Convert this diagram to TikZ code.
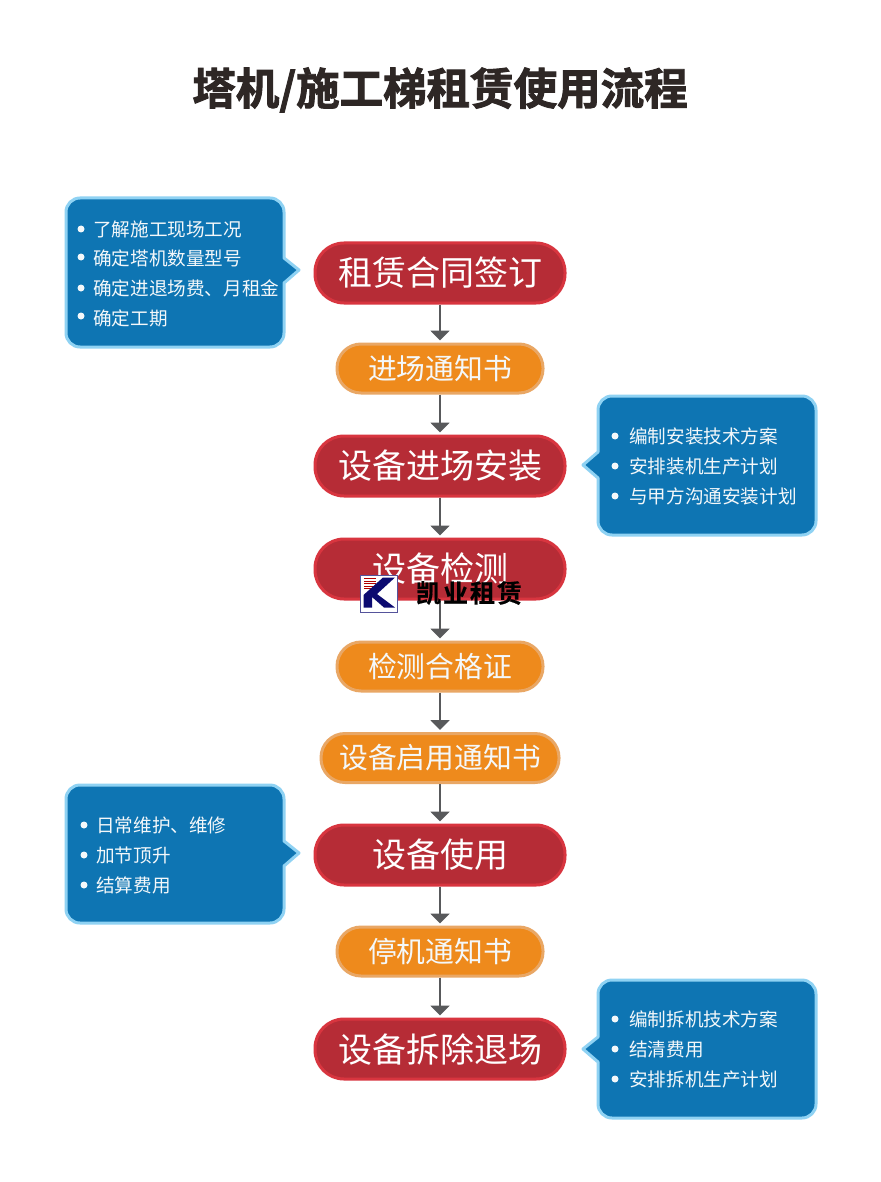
\documentclass[tikz,border=0pt]{standalone}
\usepackage{fontspec}
\setmainfont{Noto Sans CJK SC}
\newfontfamily\titlefont[FakeBold=2.2]{Noto Sans CJK SC Bold}
\newfontfamily\logofont[FakeBold=0.6]{Noto Sans CJK SC Bold}
\usetikzlibrary{arrows.meta}
\definecolor{redfill}{HTML}{B62C36}
\definecolor{redline}{HTML}{D8353F}
\definecolor{orfill}{HTML}{EE8A1C}
\definecolor{orline}{HTML}{E9A765}
\definecolor{bubfill}{HTML}{0E75B3}
\definecolor{bubline}{HTML}{8FD2F3}
\definecolor{arrowc}{HTML}{58595B}
\definecolor{titlec}{HTML}{2E2725}
\definecolor{logoc}{HTML}{0C0A70}
\definecolor{txtc}{HTML}{F4F8FA}
\tikzset{
  x=1pt,y=-1pt,
  redpill/.style={draw=redline,fill=redfill,line width=3pt,rounded corners=29pt,minimum width=250pt,minimum height=60pt,inner sep=0pt,text=white,font=\fontsize{34}{34}\selectfont},
  orpill/.style={draw=orline,fill=orfill,line width=3pt,rounded corners=24pt,minimum width=206pt,minimum height=49pt,inner sep=0pt,text=txtc,font=\fontsize{28.8}{29}\selectfont},
  widepill/.style={orpill,minimum width=238pt},
  bubble/.style={draw=bubline,fill=bubfill,line width=3pt,line join=round},
  bul/.style={anchor=west,inner sep=0pt,text=txtc,font=\fontsize{18.6}{19}\selectfont},
  dotb/.style={circle,fill=txtc,inner sep=0pt,minimum size=7pt},
  flow/.style={draw=arrowc,line width=2pt,-{Triangle[width=19pt,length=10pt]},shorten >=2pt},
}
\begin{document}
\begin{tikzpicture}
\useasboundingbox (0,0) rectangle (880,1182);
\fill[white] (0,0) rectangle (880,1182);
\node[inner sep=0pt,text=titlec,font=\titlefont\fontsize{43.5}{44}\selectfont] (title) at (440,90) {塔机/施工梯租赁使用流程};

% pills
\node[redpill] (p1) at (440,273) {租赁合同签订};
\node[orpill]  (p2) at (440,368.5) {进场通知书};
\node[redpill] (p3) at (440,466) {设备进场安装};
\node[redpill] (p4) at (440,569) {设备检测};
\node[orpill]  (p5) at (440,666.5) {检测合格证};
\node[widepill] (p6) at (440,758) {设备启用通知书};
\node[redpill] (p7) at (440,855) {设备使用};
\node[orpill]  (p8) at (440,951.5) {停机通知书};
\node[redpill] (p9) at (440,1049) {设备拆除退场};

% connectors
\draw[flow] (p1) -- (p2);
\draw[flow] (p2) -- (p3);
\draw[flow] (p3) -- (p4);
\draw[flow] (p4) -- (p5);
\draw[flow] (p5) -- (p6);
\draw[flow] (p6) -- (p7);
\draw[flow] (p7) -- (p8);
\draw[flow] (p8) -- (p9);

% callouts
\draw[bubble,rounded corners=14pt] (66,198) -- (284,198) [sharp corners] -- (284,258) -- (299,270) -- (284,283) [rounded corners=14pt] -- (284,347) -- (66,347) -- cycle;
\draw[bubble,rounded corners=14pt] (66,785) -- (284,785) [sharp corners] -- (284,841) -- (299,853) -- (284,866) [rounded corners=14pt] -- (284,923) -- (66,923) -- cycle;
\draw[bubble,rounded corners=14pt] (598,396) -- (816,396) -- (816,535) -- (598,535) [sharp corners] -- (598,478) -- (583,465) -- (598,452) [rounded corners=14pt] -- cycle;
\draw[bubble,rounded corners=14pt] (598,980) -- (816,980) -- (816,1118) -- (598,1118) [sharp corners] -- (598,1062) -- (583,1049) -- (598,1037) [rounded corners=14pt] -- cycle;

% callout text
\node[dotb] (d11) at (81,229) {}; \node[bul] (t11) at (93,229) {了解施工现场工况};
\node[dotb] (d12) at (81,257) {}; \node[bul] (t12) at (93,258) {确定塔机数量型号};
\node[dotb] (d13) at (81,288) {}; \node[bul] (t13) at (93,288) {确定进退场费、月租金};
\node[dotb] (d14) at (81,316) {}; \node[bul] (t14) at (93,318) {确定工期};

\node[dotb] (d21) at (615,436) {}; \node[bul] (t21) at (629,436) {编制安装技术方案};
\node[dotb] (d22) at (615,466) {}; \node[bul] (t22) at (629,466) {安排装机生产计划};
\node[dotb] (d23) at (615,496) {}; \node[bul] (t23) at (629,496) {与甲方沟通安装计划};

\node[dotb] (d31) at (84,825) {}; \node[bul] (t31) at (96,825) {日常维护、维修};
\node[dotb] (d32) at (84,855) {}; \node[bul] (t32) at (96,855) {加节顶升};
\node[dotb] (d33) at (84,885) {}; \node[bul] (t33) at (96,885) {结算费用};

\node[dotb] (d41) at (615,1019) {}; \node[bul] (t41) at (629,1019) {编制拆机技术方案};
\node[dotb] (d42) at (615,1049) {}; \node[bul] (t42) at (629,1049) {结清费用};
\node[dotb] (d43) at (615,1079) {}; \node[bul] (t43) at (629,1079) {安排拆机生产计划};

% logo
\draw[draw=logoc!70,fill=white,line width=1pt] (360.5,575.5) rectangle (397.5,612);
\foreach \yy in {578.5,581,583.5,586,588.5}{\draw[red!70!black,line width=0.8pt] (364,\yy) -- (376,\yy);}
\fill[logoc] (363.5,607.5) -- (363.5,595) -- (383,577.5) -- (395,577.5) -- (377,594) -- (395,607.5) -- (384,607.5) -- (372,597) -- (372,607.5) -- cycle;
\node[inner sep=0pt,text=black,font=\logofont\fontsize{25}{25}\selectfont] (logotext) at (469,593) {凯\hspace{2pt}业\hspace{2pt}租\hspace{2pt}赁};
\end{tikzpicture}
\end{document}
